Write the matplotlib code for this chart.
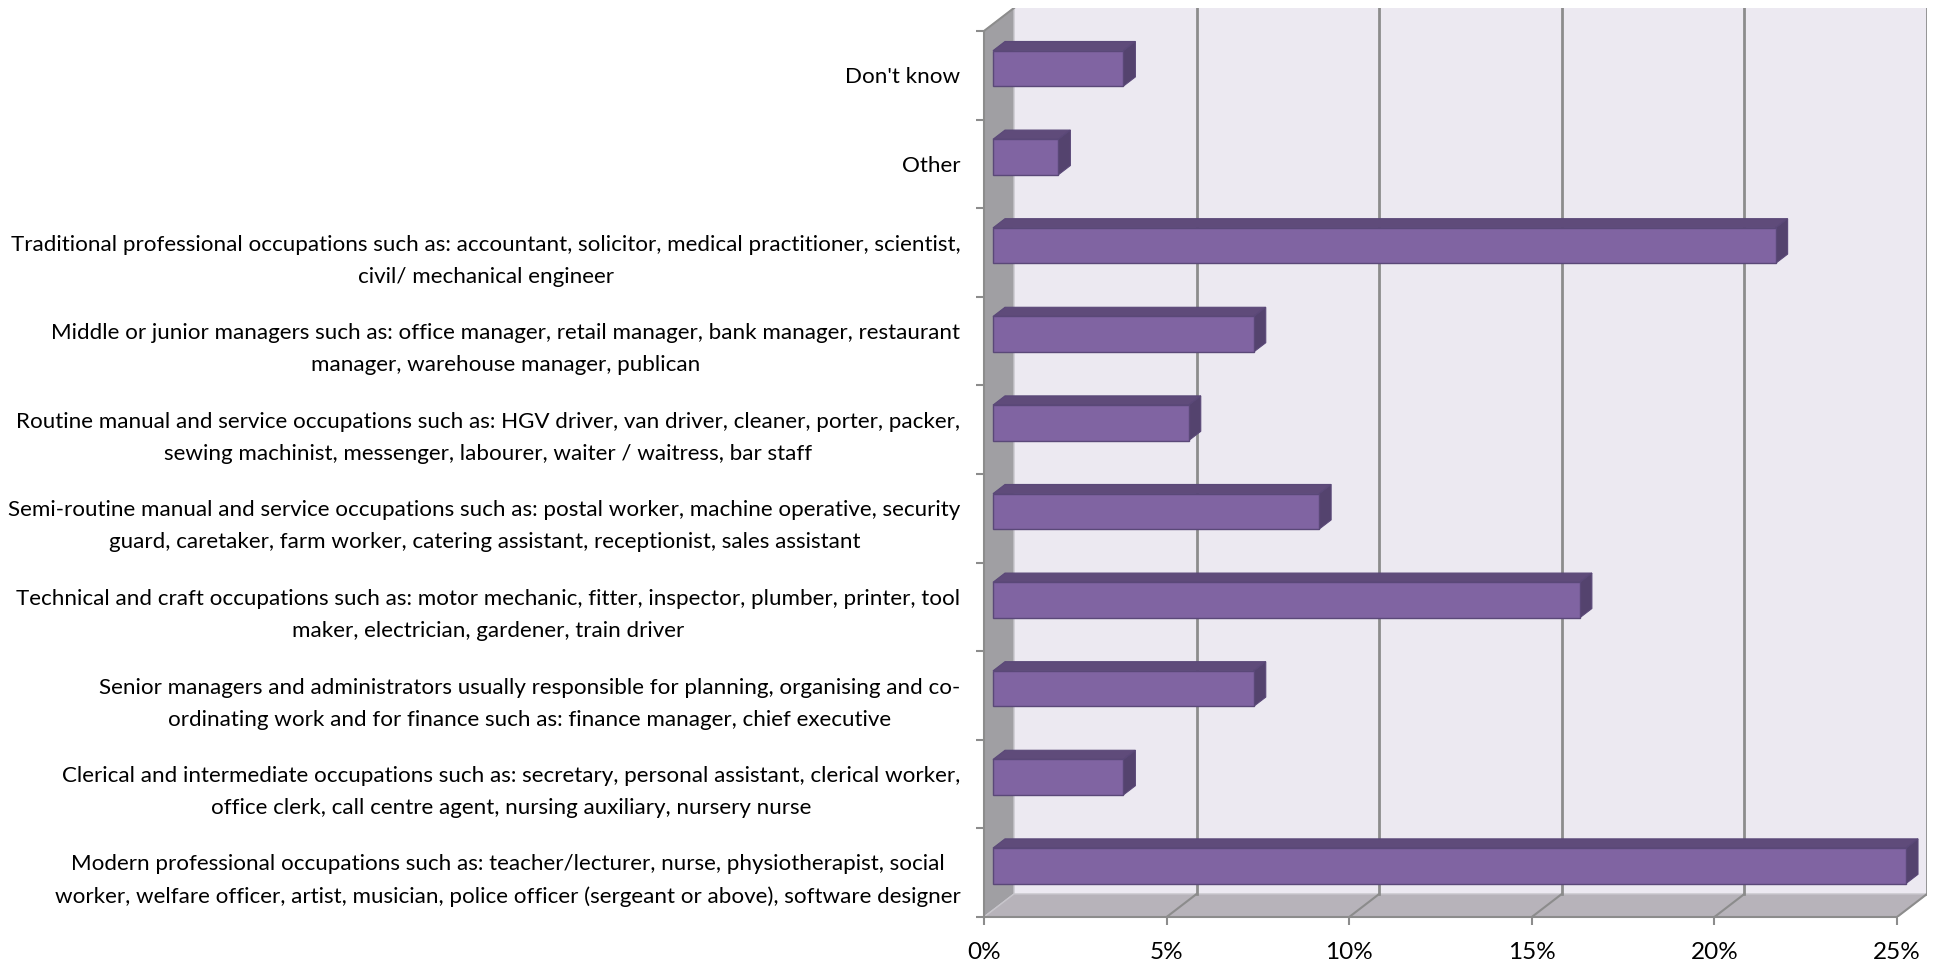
import matplotlib
matplotlib.use("Agg")
from matplotlib import pyplot as plt
from matplotlib.patches import Polygon

# categories listed bottom -> top, values in percent
categories = [
    "Modern professional occupations such as: teacher/lecturer, nurse, physiotherapist, social\n"
    "worker, welfare officer, artist, musician, police officer (sergeant or above), software designer",
    "Clerical and intermediate occupations such as: secretary, personal assistant, clerical worker,\n"
    "office clerk, call centre agent, nursing auxiliary, nursery nurse",
    "Senior managers and administrators usually responsible for planning, organising and co-\n"
    "ordinating work and for finance such as: finance manager, chief executive",
    "Technical and craft occupations such as: motor mechanic, fitter, inspector, plumber, printer, tool\n"
    "maker, electrician, gardener, train driver",
    "Semi-routine manual and service occupations such as: postal worker, machine operative, security\n"
    "guard, caretaker, farm worker, catering assistant, receptionist, sales assistant",
    "Routine manual and service occupations such as: HGV driver, van driver, cleaner, porter, packer,\n"
    "sewing machinist, messenger, labourer, waiter / waitress, bar staff",
    "Middle or junior managers such as: office manager, retail manager, bank manager, restaurant\n"
    "manager, warehouse manager, publican",
    "Traditional professional occupations such as: accountant, solicitor, medical practitioner, scientist,\n"
    "civil/ mechanical engineer",
    "Other",
    "Don't know",
]
values = [25.0, 3.57, 7.14, 16.07, 8.93, 5.36, 7.14, 21.43, 1.79, 3.57]
xticks = [0, 5, 10, 15, 20, 25]
xticklabels = ["0%", "5%", "10%", "15%", "20%", "25%"]

plt.rcParams["font.family"] = ["Lato", "DejaVu Sans"]

W, H = 1937, 965
fig = plt.figure(figsize=(W / 100, H / 100), dpi=100)
ax = fig.add_axes([984 / W, 1 - 917 / H, 943 / W, 909 / H])

xmax = 25
n = len(categories)
dx = 30 * xmax / 913.0   # depth offset in data units
dy = 23 * n / 885.0

ax.set_xlim(0, xmax + dx)
ax.set_ylim(0, n + dy)
for s in ax.spines.values():
    s.set_visible(False)

wall_col = "#ECE9F1"
left_col = "#A09FA3"
floor_col = "#B7B3BA"
grid_col = "#8C8C8C"
edge_col = "#C8C6CC"

# back wall, left wall, floor
ax.add_patch(Polygon([(dx, dy), (xmax + dx, dy), (xmax + dx, n + dy), (dx, n + dy)],
                     closed=True, fc=wall_col, ec="none", zorder=1))
ax.add_patch(Polygon([(0, 0), (dx, dy), (dx, n + dy), (0, n)],
                     closed=True, fc=left_col, ec=edge_col, lw=1, zorder=2))
ax.add_patch(Polygon([(0, 0), (xmax, 0), (xmax + dx, dy), (dx, dy)],
                     closed=True, fc=floor_col, ec=edge_col, lw=1, zorder=2))

# gridlines on back wall and floor
for t in xticks[1:]:
    ax.plot([t + dx, t + dx], [dy, n + dy], color=grid_col, lw=2, zorder=3)
    ax.plot([t, t + dx], [0, dy], color=grid_col, lw=1.5, zorder=3)

# front axis lines
ax.plot([0, 0], [0, n], color=grid_col, lw=1.5, zorder=4, clip_on=False)
ax.plot([0, xmax], [0, 0], color=grid_col, lw=1.5, zorder=4, clip_on=False)
ax.plot([0, dx], [n, n + dy], color=grid_col, lw=1.5, zorder=4)

# 3d bars
d0, d1 = 0.3, 0.7
bh = 0.4
front_col = "#8064A2"
top_col = "#5F4B7A"
side_col = "#54436E"
bar_edge = "#5A4878"
ypos = [i + 0.5 + d0 * dy for i in range(n)]
left = d0 * dx
ax.barh(ypos, values, left=left, height=bh, color=front_col,
        edgecolor=bar_edge, linewidth=1, zorder=6)
ddx = (d1 - d0) * dx
ddy = (d1 - d0) * dy
for y, v in zip(ypos, values):
    top = y + bh / 2
    bot = y - bh / 2
    ax.add_patch(Polygon([(left, top), (left + v, top), (left + v + ddx, top + ddy),
                          (left + ddx, top + ddy)], closed=True, fc=top_col,
                         ec=bar_edge, lw=0.8, zorder=5))
    ax.add_patch(Polygon([(left + v, bot), (left + v, top), (left + v + ddx, top + ddy),
                          (left + v + ddx, bot + ddy)], closed=True, fc=side_col,
                         ec=bar_edge, lw=0.8, zorder=5))

# ticks
ax.set_xticks(xticks)
ax.set_xticklabels(xticklabels, fontsize=17.5)
ax.tick_params(axis="x", length=6, width=1.5, color=grid_col, pad=12)
ax.set_yticks(range(n + 1))
ax.set_yticklabels([])
ax.tick_params(axis="y", which="major", length=6, width=1.5, color=grid_col)
ax.set_yticks([i + 0.5 for i in range(n)], minor=True)
ax.set_yticklabels(categories, minor=True, fontsize=16.1)
ax.tick_params(axis="y", which="minor", length=0, pad=17)
for lab in ax.get_yticklabels(minor=True):
    lab.set_multialignment("center")
    lab.set_linespacing(1.75)

fig.savefig("out.png", dpi=100)
